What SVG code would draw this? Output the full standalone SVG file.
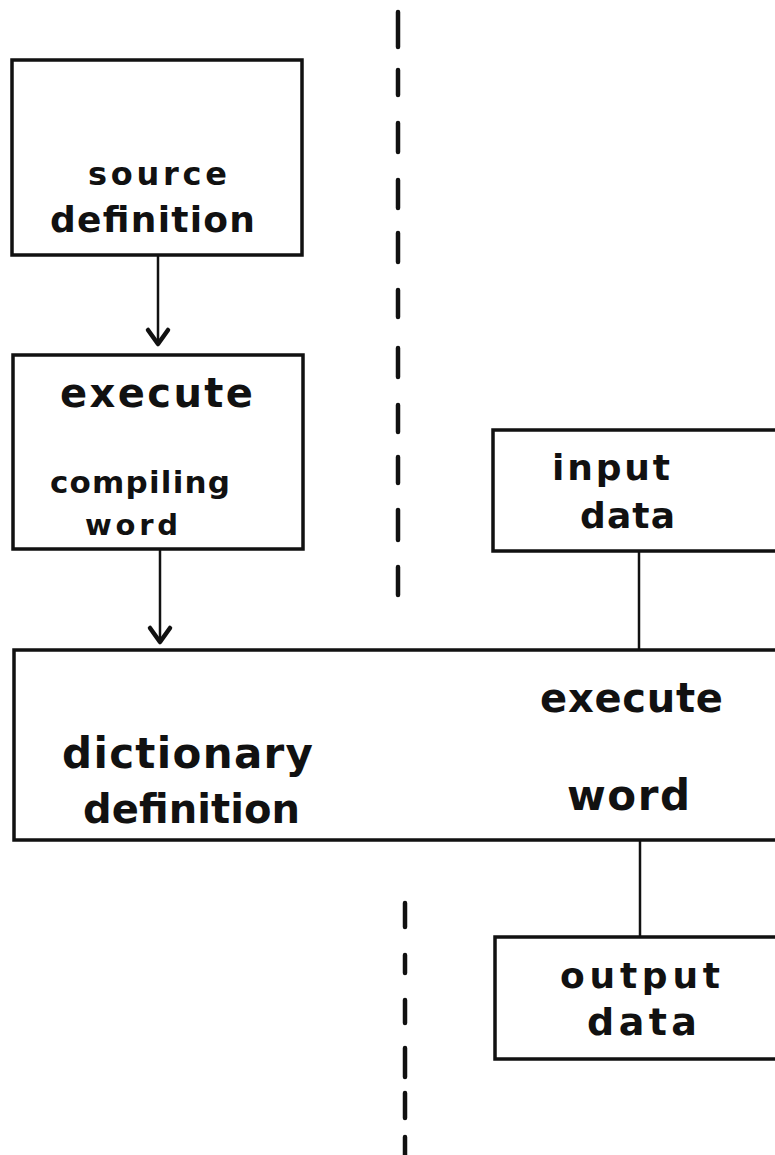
<svg xmlns="http://www.w3.org/2000/svg" width="775" height="1155" viewBox="0 0 775 1155">
<style>
.box{fill:none;stroke:#111;stroke-width:3.5}
.ln{fill:none;stroke:#111;stroke-width:2.5}
.head{fill:none;stroke:#111;stroke-width:4.5;stroke-linejoin:round;stroke-linecap:round}
.dash{fill:none;stroke:#111;stroke-width:4.5;stroke-linecap:round}
text{font-family:"DejaVu Sans","Liberation Sans",sans-serif;font-weight:bold;fill:#111}
</style>
<rect width="775" height="1155" fill="#fff"/>
<g id="divider">
<path class="dash" d="M398,12V47M398,70V95M398,123V152M398,180V208M398,233V262M398,290V317M398,348V377M398,405V432M398,457V483M398,510V540M398,567V595"/>
<path class="dash" d="M405,903V927M405,955V973M405,1000V1023M405,1048V1077M405,1093V1118M405,1137V1160"/>
</g>
<g id="connectors">
<line class="ln" x1="158" y1="256" x2="158" y2="343"/>
<path class="head" d="M148,330 L158,344 L168,330"/>
<line class="ln" x1="160" y1="550" x2="160" y2="641"/>
<path class="head" d="M150,628 L160,642 L170,628"/>
<line class="ln" x1="639" y1="551" x2="639" y2="649"/>
<line class="ln" x1="640" y1="840" x2="640" y2="937"/>
</g>
<g id="source-definition">
<rect class="box" x="12" y="60" width="290" height="195"/>
<text x="88" y="185" font-size="32" textLength="139" lengthAdjust="spacing">source</text>
<text x="50" y="232" font-size="36" textLength="205" lengthAdjust="spacing">definition</text>
</g>
<g id="execute-compiling-word">
<rect class="box" x="13" y="355" width="290" height="194"/>
<text x="60" y="407" font-size="40" textLength="193" lengthAdjust="spacing">execute</text>
<text x="50" y="493" font-size="31" textLength="180" lengthAdjust="spacing">compiling</text>
<text x="85" y="535" font-size="29" textLength="93" lengthAdjust="spacing">word</text>
</g>
<g id="input-data">
<rect class="box" x="493" y="430" width="300" height="121"/>
<text x="552" y="480" font-size="36" textLength="118" lengthAdjust="spacing">input</text>
<text x="580" y="528" font-size="36" textLength="95" lengthAdjust="spacing">data</text>
</g>
<g id="dictionary-definition">
<rect class="box" x="14" y="650" width="780" height="190"/>
<text x="62" y="768" font-size="42" textLength="251" lengthAdjust="spacing">dictionary</text>
<text x="83" y="823" font-size="40" textLength="217" lengthAdjust="spacing">definition</text>
<text x="540" y="712" font-size="40" textLength="183" lengthAdjust="spacing">execute</text>
<text x="567" y="810" font-size="42" textLength="123" lengthAdjust="spacing">word</text>
</g>
<g id="output-data">
<rect class="box" x="495" y="937" width="300" height="122"/>
<text x="560" y="988" font-size="36" textLength="160" lengthAdjust="spacing">output</text>
<text x="587" y="1035" font-size="38" textLength="110" lengthAdjust="spacing">data</text>
</g>
</svg>
